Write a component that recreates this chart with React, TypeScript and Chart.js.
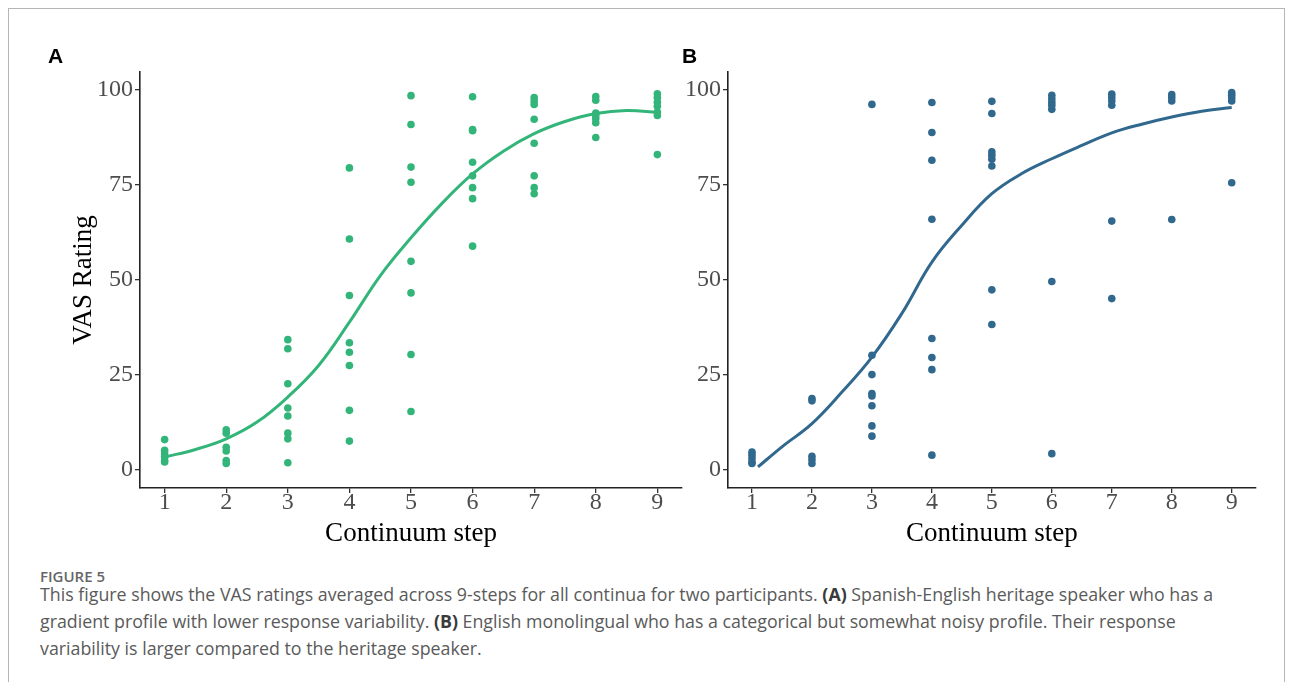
import React, { useEffect, useRef } from "react";
import { Chart, registerables } from "chart.js";

Chart.register(...registerables);

// ---------- data ----------
const STEPS = [1, 2, 3, 4, 5, 6, 7, 8, 9];
const Y_TICKS = [0, 25, 50, 75, 100];

// Panel A: ratings per continuum step
const A_RATINGS: number[][] = [
  [7.9, 5.1, 4.2, 3.3, 2.4, 2.0],
  [10.5, 9.6, 5.9, 4.9, 2.4, 1.6],
  [34.2, 31.8, 22.6, 16.2, 14.1, 9.6, 8.1, 1.8],
  [79.4, 60.7, 45.8, 33.4, 30.9, 27.4, 15.6, 7.5],
  [98.4, 90.8, 79.6, 75.6, 54.8, 46.5, 30.3, 15.3],
  [98.1, 89.5, 89.2, 80.9, 77.3, 74.2, 71.3, 58.8],
  [97.9, 97.0, 96.1, 92.2, 85.9, 77.3, 74.2, 72.6],
  [98.2, 97.2, 93.8, 93.2, 92.4, 91.3, 87.4],
  [98.9, 97.9, 96.7, 95.6, 94.1, 93.2, 82.9],
];
const A_FIT_X = [1, 1.5, 2, 2.5, 3, 3.5, 4, 4.5, 5, 5.5, 6, 6.5, 7, 7.5, 8, 8.5, 9];
const A_FIT_Y = [3.3, 5.3, 8.1, 12.5, 19.1, 27.4, 38.8, 51.0, 61.0, 70.0, 77.8, 83.8, 88.4, 91.6, 93.7, 94.5, 94.0];

// Panel B: ratings per continuum step
const B_RATINGS: number[][] = [
  [4.6, 3.8, 2.9, 2.0, 1.6],
  [18.7, 18.1, 3.5, 2.6, 1.6],
  [96.1, 30.1, 25.0, 20.0, 19.4, 16.8, 11.5, 8.8],
  [96.6, 88.7, 81.4, 65.9, 34.5, 29.5, 26.3, 3.8],
  [96.9, 93.7, 83.6, 82.7, 81.7, 79.9, 47.3, 38.2],
  [98.5, 97.6, 96.7, 95.9, 94.8, 49.5, 4.2],
  [98.8, 97.9, 97.0, 95.9, 65.4, 45.0],
  [98.7, 97.9, 97.0, 65.8],
  [99.2, 98.5, 97.8, 97.0, 75.5],
];
const B_FIT_X = [1.1, 1.5, 2, 2.5, 3, 3.5, 4, 4.5, 5, 5.5, 6, 6.5, 7, 7.5, 8, 8.5, 9];
const B_FIT_Y = [0.7, 6.0, 12.1, 20.4, 29.6, 41.1, 54.6, 64.3, 72.6, 77.9, 81.8, 85.3, 88.6, 90.9, 92.8, 94.3, 95.3];

const COLOR_A = "#33b57a";
const COLOR_B = "#30688e";

const SERIF = '"Liberation Serif", "Times New Roman", serif';

type PanelOpts = {
  ratings: number[][];
  fitX: number[];
  fitY: number[];
  color: string;
  yTitle: boolean;
  yWidth: number;
  padRight: number;
};

function toPoints(ratings: number[][]) {
  return ratings.flatMap((vals, i) => vals.map((v) => ({ x: STEPS[i], y: v })));
}

function makePanel(canvas: HTMLCanvasElement, o: PanelOpts) {
  const grid = {
    display: true,
    drawOnChartArea: false,
    drawTicks: true,
    tickLength: 5,
    color: "#333333",
    lineWidth: 1.3,
  };
  const border = { display: true, color: "#222222", width: 1.6 };
  return new Chart(canvas, {
    type: "scatter",
    data: {
      datasets: [
        {
          label: "fit",
          data: o.fitX.map((x, i) => ({ x, y: o.fitY[i] })),
          showLine: true,
          borderColor: o.color,
          borderWidth: 3,
          pointRadius: 0,
          tension: 0.4,
          fill: false,
        } as any,
        {
          label: "ratings",
          data: toPoints(o.ratings),
          backgroundColor: o.color,
          borderWidth: 0,
          pointRadius: 3.8,
          pointHoverRadius: 3.8,
        },
      ],
    },
    options: {
      animation: false,
      responsive: false,
      devicePixelRatio: 1,
      layout: { padding: { top: 72, right: o.padRight, bottom: 0, left: 0 } },
      plugins: { legend: { display: false }, tooltip: { enabled: false } },
      events: [],
      scales: {
        x: {
          type: "linear",
          min: 0.6,
          max: 9.4,
          afterBuildTicks: (s: any) => {
            s.ticks = STEPS.map((v) => ({ value: v }));
          },
          afterFit: (s: any) => {
            s.height = 72;
          },
          ticks: {
            color: "#4d4d4d",
            font: { family: SERIF, size: 24, lineHeight: 1 },
            padding: -2,
            maxRotation: 0,
            autoSkip: false,
            callback: (v: any) => String(v),
          },
          title: {
            display: true,
            text: "Continuum step",
            color: "#000000",
            font: { family: SERIF, size: 27, lineHeight: 1.2 },
            padding: { top: 0, bottom: 9.8 },
          },
          grid,
          border,
        },
        y: {
          type: "linear",
          min: -4.84,
          max: 104.63,
          afterBuildTicks: (s: any) => {
            s.ticks = Y_TICKS.map((v) => ({ value: v }));
          },
          afterFit: (s: any) => {
            s.width = o.yWidth;
          },
          ticks: {
            color: "#4d4d4d",
            font: { family: SERIF, size: 24, lineHeight: 1 },
            padding: 2,
            callback: (v: any) => String(v),
          },
          title: {
            display: o.yTitle,
            text: "VAS Rating",
            color: "#000000",
            font: { family: SERIF, size: 27, lineHeight: 1.2 },
            padding: { top: 67.8, bottom: 0 },
          },
          grid,
          border,
        },
      },
    } as any,
  });
}

const CAPTION_FONT = '"Open Sans", "Noto Sans", sans-serif';

export default function App() {
  const refA = useRef<HTMLCanvasElement>(null);
  const refB = useRef<HTMLCanvasElement>(null);

  useEffect(() => {
    const a = makePanel(refA.current!, {
      ratings: A_RATINGS,
      fitX: A_FIT_X,
      fitY: A_FIT_Y,
      color: COLOR_A,
      yTitle: true,
      yWidth: 140,
      padRight: 4,
    });
    const b = makePanel(refB.current!, {
      ratings: B_RATINGS,
      fitX: B_FIT_X,
      fitY: B_FIT_Y,
      color: COLOR_B,
      yTitle: false,
      yWidth: 42,
      padRight: 24.3,
    });
    return () => {
      a.destroy();
      b.destroy();
    };
  }, []);

  const capLine: React.CSSProperties = {
    position: "absolute",
    left: 40,
    whiteSpace: "nowrap",
    font: `400 17.8px ${CAPTION_FONT}`,
    lineHeight: "27px",
    color: "#5a5a5a",
  };
  const bold: React.CSSProperties = { fontWeight: 700, color: "#3a3a3a" };

  return (
    <div style={{ position: "absolute", left: 0, top: 0, width: 1293, height: 682, overflow: "hidden", background: "#fff" }}>
      <div
        style={{
          position: "absolute",
          left: 8,
          top: 8,
          width: 1277,
          height: 674,
          boxSizing: "border-box",
          border: "1px solid #b5b5b5",
          borderBottom: "none",
        }}
      />
      <canvas ref={refA} width={686} height={560} style={{ position: "absolute", left: 0, top: 0, width: 686, height: 560 }} />
      <canvas ref={refB} width={594} height={560} style={{ position: "absolute", left: 686, top: 0, width: 594, height: 560 }} />
      <div style={{ position: "absolute", left: 48, top: 44, font: `700 21px "Liberation Sans", Arial, sans-serif`, color: "#000" }}>A</div>
      <div style={{ position: "absolute", left: 682, top: 44, font: `700 21px "Liberation Sans", Arial, sans-serif`, color: "#000" }}>B</div>
      <div style={{ position: "absolute", left: 40, top: 566, font: `600 15px ${CAPTION_FONT}`, color: "#666", lineHeight: "20px" }}>FIGURE 5</div>
      <div style={{ ...capLine, top: 581 }}>
        This figure shows the VAS ratings averaged across 9-steps for all continua for two participants. <span style={bold}>(A)</span> Spanish-English heritage speaker who has a
      </div>
      <div style={{ ...capLine, top: 608 }}>
        gradient profile with lower response variability. <span style={bold}>(B)</span> English monolingual who has a categorical but somewhat noisy profile. Their response
      </div>
      <div style={{ ...capLine, top: 635 }}>variability is larger compared to the heritage speaker.</div>
    </div>
  );
}
